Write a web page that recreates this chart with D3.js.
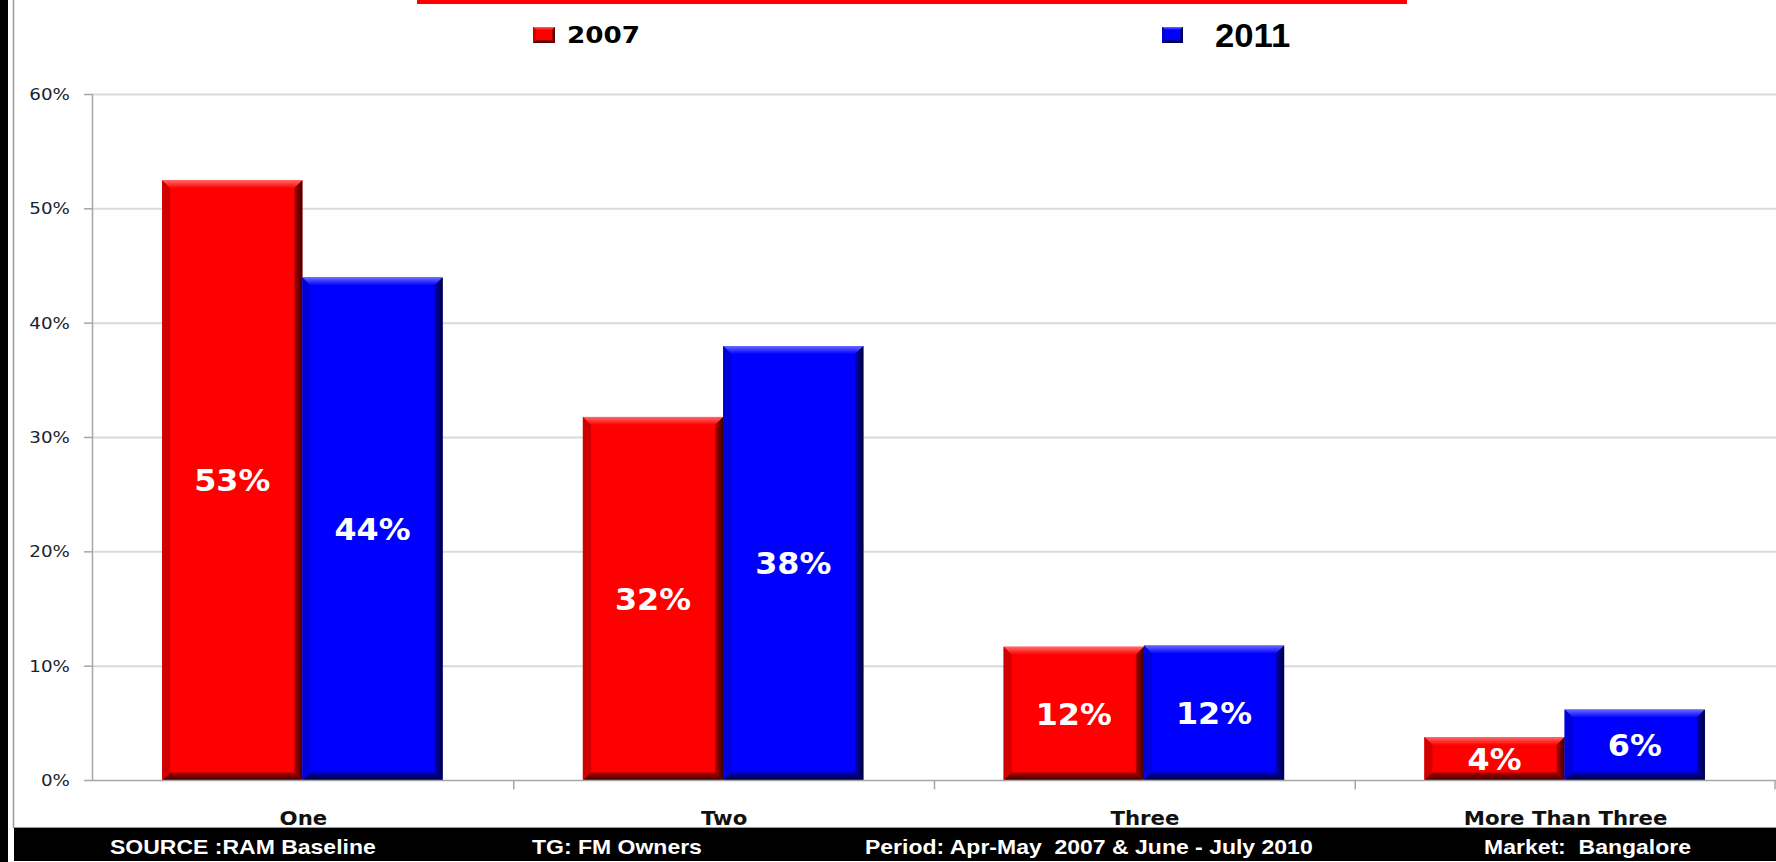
<!DOCTYPE html>
<html>
<head>
<meta charset="utf-8">
<script src="https://cdn.jsdelivr.net/npm/d3@7/dist/d3.min.js"></script>
<style>
  html, body { margin: 0; padding: 0; background: #fff; }
  svg { display: block; }
</style>
</head>
<body>
<svg id="chart" width="1776" height="862"></svg>
<script>
// ---- data ----
const categories = ["One", "Two", "Three", "More Than Three"];
const seriesNames = ["2007", "2011"];
const values2007 = [52.5, 31.8, 11.7, 3.8];
const values2011 = [44.0, 38.0, 11.8, 6.2];
const yTicks = [0, 10, 20, 30, 40, 50, 60];
const footerTexts = ["SOURCE :RAM Baseline", "TG: FM Owners", "Period: Apr-May  2007 & June - July 2010", "Market:  Bangalore"];

// ---- styles ----
const palette = {
  "2007": { base: "#ff0000", light: "#ff6a6a", dark1: "#b00000", dark2: "#3a0000", bottom: "#a80000", left: "#d00000" },
  "2011": { base: "#0000ff", light: "#6a6aff", dark1: "#0000b0", dark2: "#00003a", bottom: "#0000a8", left: "#0000d8" }
};

const svg = d3.select("#chart");
const W = 1776, H = 862;

const rows = categories.map((c, i) => ({ cat: c, vals: [
  { s: "2007", v: values2007[i] }, { s: "2011", v: values2011[i] } ] }));

const y = d3.scaleLinear().domain([0, 60]).range([780.5, 94.5]);
const x0 = d3.scaleBand().domain(categories).range([93, 1776]).padding(0);
const bw = x0.bandwidth();
const x1 = d3.scaleBand().domain(seriesNames).range([bw / 6 - 1, bw - bw / 6 - 1]).padding(0);

// gradients
const defs = svg.append("defs");
Object.entries(palette).forEach(([k, p]) => {
  const gTop = defs.append("linearGradient").attr("id", "top" + k)
    .attr("x1", 0).attr("y1", 0).attr("x2", 0).attr("y2", 1);
  gTop.append("stop").attr("offset", "0%").attr("stop-color", p.light);
  gTop.append("stop").attr("offset", "100%").attr("stop-color", p.base);
  const gR = defs.append("linearGradient").attr("id", "right" + k)
    .attr("x1", 0).attr("y1", 0).attr("x2", 1).attr("y2", 0);
  gR.append("stop").attr("offset", "0%").attr("stop-color", p.dark1);
  gR.append("stop").attr("offset", "100%").attr("stop-color", p.dark2);
  const gB = defs.append("linearGradient").attr("id", "bot" + k)
    .attr("x1", 0).attr("y1", 0).attr("x2", 0).attr("y2", 1);
  gB.append("stop").attr("offset", "0%").attr("stop-color", p.bottom);
  gB.append("stop").attr("offset", "100%").attr("stop-color", p.dark2);
});

function bevelBox(g, w, h, key, b) {
  const p = palette[key];
  g.append("rect").attr("width", w).attr("height", h).attr("fill", p.base);
  const bb = Math.min(b, h / 2, w / 2);
  g.append("polygon").attr("points", [[0,0],[w,0],[w-bb,bb],[bb,bb]].join(" ")).attr("fill", `url(#top${key})`);
  g.append("polygon").attr("points", [[0,0],[bb,bb],[bb,h-bb],[0,h]].join(" ")).attr("fill", p.left);
  g.append("polygon").attr("points", [[0,h],[bb,h-bb],[w-bb,h-bb],[w,h]].join(" ")).attr("fill", `url(#bot${key})`);
  g.append("polygon").attr("points", [[w,0],[w,h],[w-bb,h-bb],[w-bb,bb]].join(" ")).attr("fill", `url(#right${key})`);
}

// ---- frame ----
svg.append("rect").attr("x", 0).attr("y", 0).attr("width", 8).attr("height", H).attr("fill", "#000");
svg.append("line").attr("x1", 13.5).attr("x2", 13.5).attr("y1", 0).attr("y2", 828).attr("stroke", "#9a9a9a").attr("stroke-width", 1.5);
svg.append("rect").attr("x", 417).attr("y", 0).attr("width", 990).attr("height", 4).attr("fill", "#ff0000");

// ---- legend ----
const legendItems = [
  { s: "2007", bx: 533, by: 27, bwid: 22, bh: 16, tx: 567, ty: 43, size: 23, family: "'DejaVu Sans', Verdana, sans-serif", sx: 1.14 },
  { s: "2011", bx: 1162, by: 27, bwid: 21, bh: 16, tx: 1215, ty: 46.5, size: 34, family: "'Liberation Sans', Arial, sans-serif", sx: 1.02 }
];
legendItems.forEach(d => {
  const g = svg.append("g").attr("transform", `translate(${d.bx},${d.by})`);
  bevelBox(g, d.bwid, d.bh, d.s, 3);
  svg.append("text").attr("transform", `translate(${d.tx},${d.ty}) scale(${d.sx},1)`)
    .attr("font-family", d.family).attr("font-weight", "bold").attr("font-size", d.size)
    .attr("fill", "#000").text(d.s);
});

// ---- grid ----
svg.append("g").selectAll("line").data(yTicks.filter(t => t > 0)).join("line")
  .attr("x1", 93).attr("x2", W).attr("y1", d => y(d)).attr("y2", d => y(d))
  .attr("stroke", "#dadada").attr("stroke-width", 2);

// y axis
svg.append("line").attr("x1", 92.5).attr("x2", 92.5).attr("y1", y(60)).attr("y2", y(0))
  .attr("stroke", "#a6a6a6").attr("stroke-width", 1.5);
svg.append("g").selectAll("line").data(yTicks).join("line")
  .attr("x1", 84).attr("x2", 93).attr("y1", d => y(d)).attr("y2", d => y(d))
  .attr("stroke", "#a6a6a6").attr("stroke-width", 1.5);
svg.append("g").selectAll("text").data(yTicks).join("text")
  .attr("transform", d => `translate(70,${y(d) + 5.5}) scale(1.22,1)`)
  .attr("text-anchor", "end")
  .attr("font-family", "'DejaVu Sans', Verdana, sans-serif").attr("font-size", 15)
  .attr("fill", "#1a2230").text(d => d + "%");

// ---- bars ----
const catG = svg.append("g").selectAll("g").data(rows).join("g")
  .attr("transform", d => `translate(${x0(d.cat)},0)`);
catG.each(function(r) {
  const cg = d3.select(this);
  r.vals.forEach(v => {
    const bx = x1(v.s), by = y(v.v), w = x1.bandwidth(), h = y(0) - y(v.v);
    const g = cg.append("g").attr("transform", `translate(${bx},${by})`);
    bevelBox(g, w, h, v.s, 8);
    cg.append("text")
      .attr("transform", `translate(${bx + w / 2},${by + h / 2 + 11}) scale(1.06,1)`)
      .attr("text-anchor", "middle")
      .attr("font-family", "'DejaVu Sans', Verdana, sans-serif").attr("font-weight", "bold")
      .attr("font-size", 30).attr("fill", "#fff")
      .text(Math.round(v.v) + "%");
  });
});

// x axis
svg.append("line").attr("x1", 93).attr("x2", W).attr("y1", y(0)).attr("y2", y(0))
  .attr("stroke", "#a6a6a6").attr("stroke-width", 1.5);
svg.append("g").selectAll("line").data(categories).join("line")
  .attr("x1", d => Math.min(x0(d) + bw, W - 1)).attr("x2", d => Math.min(x0(d) + bw, W - 1))
  .attr("y1", y(0)).attr("y2", y(0) + 9)
  .attr("stroke", "#a6a6a6").attr("stroke-width", 1.5);
svg.append("g").selectAll("text").data(categories).join("text")
  .attr("transform", d => `translate(${x0(d) + bw / 2},825) scale(1.12,1)`)
  .attr("text-anchor", "middle")
  .attr("font-family", "'DejaVu Sans', Verdana, sans-serif").attr("font-weight", "bold")
  .attr("font-size", 19).attr("fill", "#111").text(d => d);

// ---- footer ----
svg.append("line").attr("x1", 14).attr("x2", W).attr("y1", 827.5).attr("y2", 827.5).attr("stroke", "#9a9a9a");
svg.append("rect").attr("x", 14).attr("y", 828).attr("width", W - 14).attr("height", 33).attr("fill", "#000");
const footerX = [110, 532, 865, 1484];
svg.append("g").selectAll("text").data(footerTexts).join("text")
  .attr("transform", (d, i) => `translate(${footerX[i]},853.5) scale(1.18,1)`)
  .attr("font-family", "'Liberation Sans', Arial, sans-serif").attr("font-weight", "bold")
  .attr("font-size", 19.5).attr("fill", "#fff").attr("xml:space", "preserve")
  .style("white-space", "pre").text(d => d);
</script>
</body>
</html>
